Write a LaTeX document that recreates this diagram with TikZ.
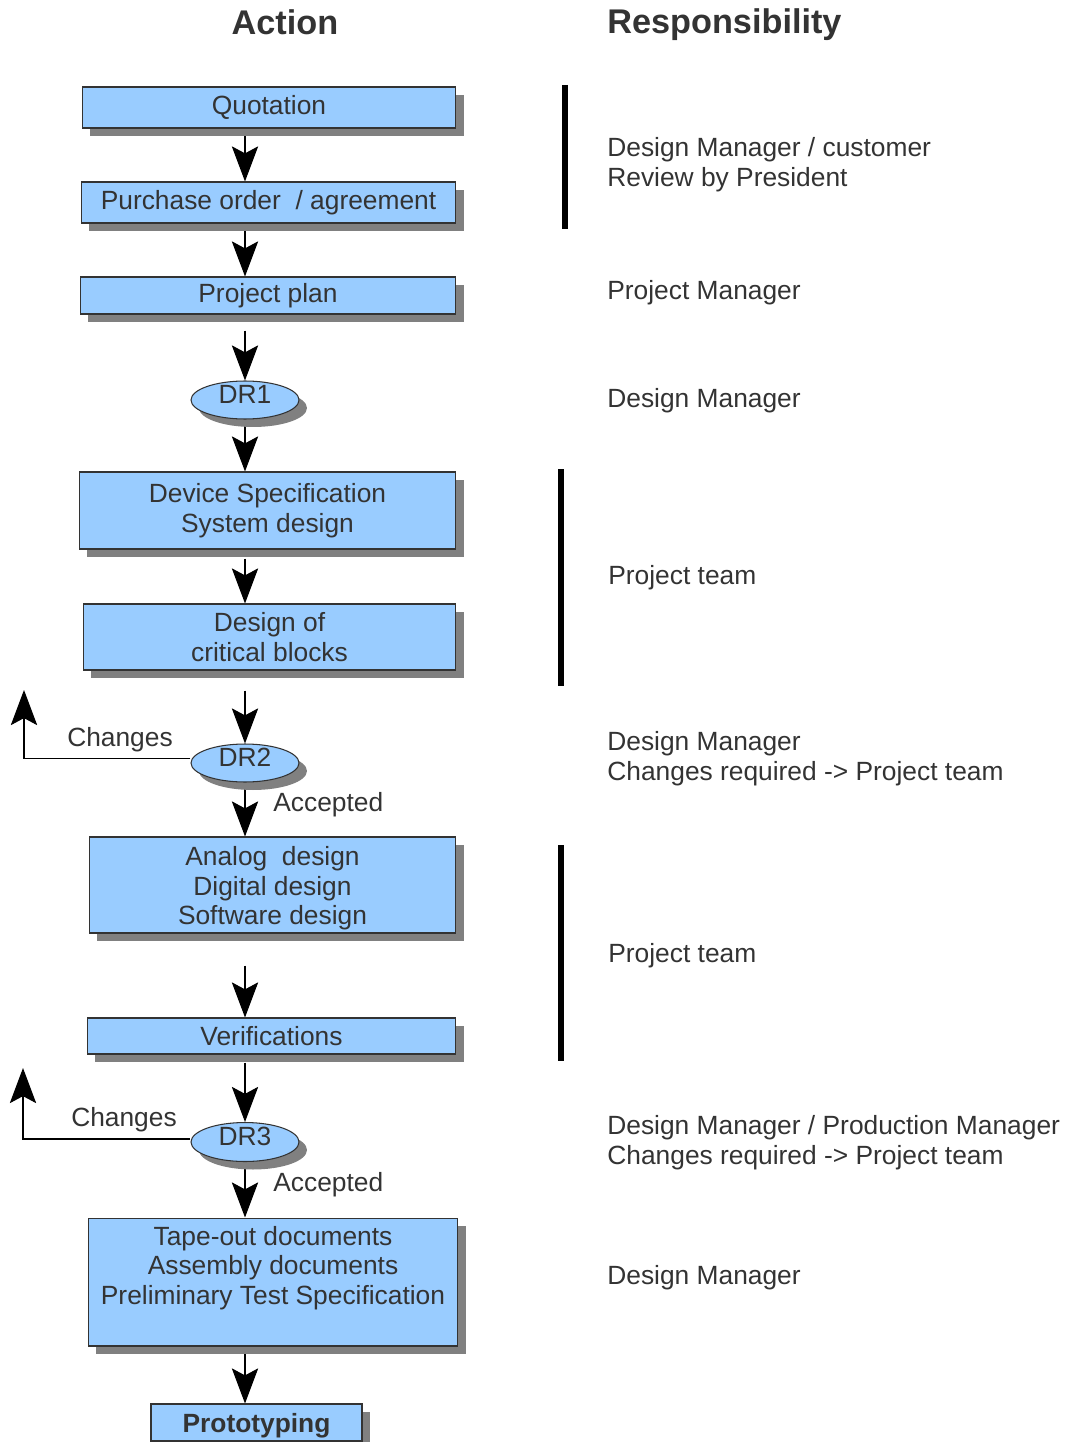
\documentclass[tikz,border=0pt]{standalone}
\usepackage{fontspec}
\setmainfont{Liberation Sans}
\usetikzlibrary{positioning, shapes.geometric, arrows.meta, shadows, backgrounds}
\definecolor{BoxBlue}{RGB}{153, 204, 255}
\definecolor{ShadeGray}{RGB}{128, 128, 128}
\definecolor{TextGray}{RGB}{51, 51, 51}
\newcommand{\liftup}[2]{\raisebox{#1}[\height][\depth]{#2}}

\begin{document}
\begin{tikzpicture}[x=0.02cm, y=-0.02cm, font=\fontsize{15}{17}\selectfont, text=TextGray,
    dropshade/.style={drop shadow={shadow xshift=0.16cm, shadow yshift=-0.16cm, fill=ShadeGray, opacity=1}},
    box/.style={rectangle, draw=TextGray, line width=0.6pt, fill=BoxBlue, dropshade, inner sep=0pt, align=center},
    review/.style={ellipse, draw=TextGray, line width=0.6pt, fill=BoxBlue, dropshade, inner sep=0pt,
                   minimum width=2.16cm, minimum height=0.76cm},
    flow/.style={line width=0.6pt, -{Stealth[length=20pt, width=15pt, inset=4pt]}},
    bar/.style={line width=3.4pt},
    resp/.style={anchor=west, align=left, inner sep=0pt},
    head/.style={font=\bfseries\fontsize{19.5}{23}\selectfont, inner sep=0pt}]
    \useasboundingbox (0,0) rectangle (1066,1442);

    % Headings
    \node[head] (acthead) at (285,22) {Action};
    \node[head, anchor=west] (resphead) at (607,25) {Responsibility};

    % Action boxes
    \node[box, minimum width=7.48cm, minimum height=0.82cm] (quote) at (269,107.5) {Quotation};
    \node[box, minimum width=7.50cm, minimum height=0.82cm] (order) at (268.5,202.5) {Purchase order~ / agreement};
    \node[box, minimum width=7.52cm, minimum height=0.74cm] (plan) at (268,295.5) {Project plan};
    \node[review] (dr1) at (245,400) {\liftup{3.4pt}{DR1}};
    \node[box, minimum width=7.54cm, minimum height=1.54cm] (spec) at (267.5,510.5) {Device Specification\\System design};
    \node[box, minimum width=7.46cm, minimum height=1.32cm] (blocks) at (269.5,637) {Design of\\critical blocks};
    \node[review] (dr2) at (245,763) {\liftup{3.4pt}{DR2}};
    \node[box, minimum width=7.34cm, minimum height=1.92cm] (impl) at (272.5,885)
      {\liftup{-2.3pt}{\begin{tabular}{@{}c@{}}Analog~ design\\Digital design\\Software design\end{tabular}}};
    \node[box, minimum width=7.38cm, minimum height=0.72cm] (verif) at (271.5,1036) {Verifications};
    \node[review, minimum height=0.78cm] (dr3) at (245,1142) {\liftup{3pt}{DR3}};
    \node[box, minimum width=7.40cm, minimum height=2.56cm] (tapeout) at (273,1282)
      {\liftup{7.4pt}{\begin{tabular}{@{}c@{}}Tape-out documents\\Assembly documents\\Preliminary Test Specification\end{tabular}}};
    \node[box, minimum width=4.22cm, minimum height=0.74cm, font=\bfseries\fontsize{15}{17}\selectfont] (proto) at (256.5,1422.5)
      {\liftup{-1.7pt}{Prototyping}};

    % Review outcomes
    \node (chg2) at (120,740) {Changes};
    \node[anchor=west, inner sep=0pt] (acc2) at (273,805) {Accepted};
    \node (chg3) at (124,1120) {Changes};
    \node[anchor=west, inner sep=0pt] (acc3) at (273,1185) {Accepted};
    \coordinate (back2) at (24,690);
    \coordinate (back3) at (23,1068);

    % Flow
    \begin{scope}[on background layer]
      \draw[flow] (quote.south -| dr1.center) -- (order.north -| dr1.center);
      \draw[flow] (order.south -| dr1.center) -- (plan.north -| dr1.center);
      \draw[flow, shorten <=0.32cm] (plan.south -| dr1.center) -- (dr1.north);
      \draw[flow] (dr1.south) -- (spec.north -| dr1.center);
      \draw[flow, shorten <=0.18cm] (spec.south -| dr1.center) -- (blocks.north -| dr1.center);
      \draw[flow, shorten <=0.4cm] (blocks.south -| dr1.center) -- (dr2.north);
      \draw[flow] (dr2.south) -- (impl.north -| dr2.center);
      \draw[flow, shorten <=0.64cm] (impl.south -| dr2.center) -- (verif.north -| dr2.center);
      \draw[flow, shorten <=0.16cm] (verif.south -| dr3.center) -- (dr3.north);
      \draw[flow] (dr3.south) -- (tapeout.north -| dr3.center);
      \draw[flow] (tapeout.south -| dr3.center) -- (proto.north -| dr3.center);
      \draw[flow] ([yshift=2.3pt]dr2.west) -| (back2);
      \draw[flow] ([yshift=1.7pt]dr3.west) -| (back3);
    \end{scope}

    % Responsibility bars
    \draw[bar] (565,85) -- (565,229);
    \draw[bar] (561,469) -- (561,686);
    \draw[bar] (561,845) -- (561,1061);

    % Responsibility texts
    \foreach \y/\t [count=\i] in {165/{Design Manager / customer\\Review by President},
                                  293/{Project Manager}, 401/{Design Manager},
                                  759/{Design Manager\\Changes required -> Project team},
                                  1143/{Design Manager / Production Manager\\Changes required -> Project team},
                                  1278/{Design Manager}} {
      \node[resp] (resp\i) at (607,\y) {\t};
    }
    \node[resp] (team1) at (608,578) {Project team};
    \node[resp] (team2) at (608,956) {Project team};
\end{tikzpicture}
\end{document}
